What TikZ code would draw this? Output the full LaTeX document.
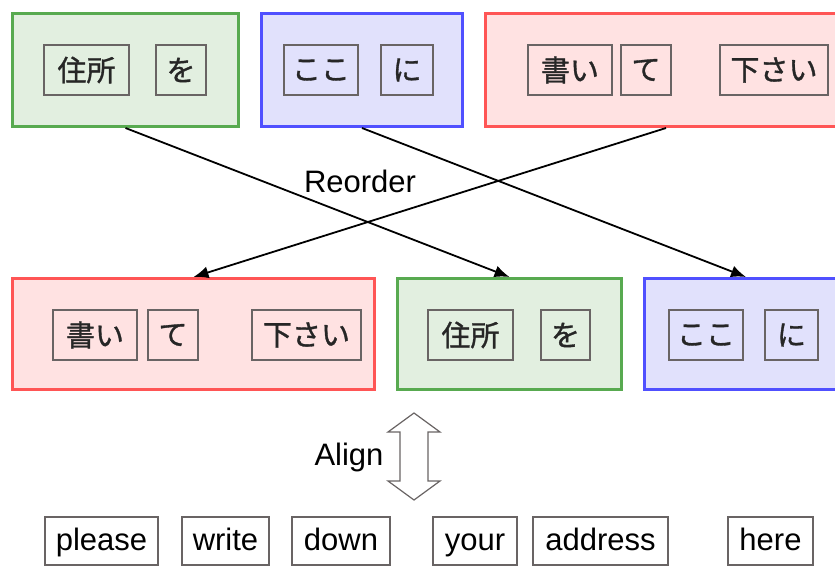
\documentclass[tikz,border=0pt]{standalone}
\usepackage{fontspec}
\setmainfont{Liberation Sans}
\newfontfamily\jp[FakeBold=1.2]{Noto Sans CJK JP}
\usetikzlibrary{arrows.meta,calc}
\definecolor{gline}{RGB}{88,170,80}
\definecolor{gfill}{RGB}{226,239,224}
\definecolor{bline}{RGB}{80,80,255}
\definecolor{bfill}{RGB}{225,225,252}
\definecolor{rline}{RGB}{255,85,85}
\definecolor{rfill}{RGB}{255,226,226}
\definecolor{ibox}{RGB}{105,100,100}
\tikzset{
  outer/.style={draw, line width=3pt, anchor=north west, inner sep=0pt, minimum height=113pt},
  gbox/.style={outer, draw=gline, fill=gfill},
  bbox/.style={outer, draw=bline, fill=bfill},
  rbox/.style={outer, draw=rline, fill=rfill},
  jbox/.style={draw=ibox, line width=1.3pt, minimum height=50pt, inner sep=0pt, text=black!85, font=\jp\fontsize{29}{29}\selectfont},
  wbox/.style={draw=ibox, line width=1.3pt, fill=white, minimum height=48pt, inner sep=0pt, text height=24pt, text depth=5pt, font=\fontsize{31}{31}\selectfont},
  conn/.style={line width=1.8pt, -{Latex[length=15pt,width=12pt]}},
  lbl/.style={font=\fontsize{31}{31}\selectfont, inner sep=0pt}
}
\begin{document}
\begin{tikzpicture}[x=1pt,y=-1pt]
\useasboundingbox (0,0) rectangle (835,565);
\clip (0,0) rectangle (835,565);
% top row
\node[gbox, minimum width=226pt] (g1) at (11,12) {};
\node[bbox, minimum width=201pt] (b1) at (260,12) {};
\node[rbox, minimum width=361pt] (r1) at (484,12) {};
\node[jbox, minimum width=85pt] (g1a) at (86.5,70) {住所};
\node[jbox, minimum width=50pt] (g1b) at (181,70) {を};
\node[jbox, minimum width=74pt] (b1a) at (321,70) {ここ};
\node[jbox, minimum width=52pt] (b1b) at (407,70) {に};
\node[jbox, minimum width=84pt] (r1a) at (570,70) {書い};
\node[jbox, minimum width=50pt] (r1b) at (646,70) {て};
\node[jbox, minimum width=108pt] (r1c) at (774,70) {下さい};
% middle row
\node[rbox, minimum width=362pt, minimum height=111pt] (r2) at (11,277) {};
\node[gbox, minimum width=224pt, minimum height=111pt] (g2) at (396,277) {};
\node[bbox, minimum width=203pt, minimum height=111pt] (b2) at (643,277) {};
\node[jbox, minimum width=84pt] (r2a) at (95,335) {書い};
\node[jbox, minimum width=50pt] (r2b) at (173,335) {て};
\node[jbox, minimum width=109pt] (r2c) at (306.5,335) {下さい};
\node[jbox, minimum width=85pt] (g2a) at (470.5,335) {住所};
\node[jbox, minimum width=49pt] (g2b) at (565.5,335) {を};
\node[jbox, minimum width=74pt] (b2a) at (706,335) {ここ};
\node[jbox, minimum width=53pt] (b2b) at (791.5,335) {に};
% reorder arrows
\draw[conn] (g1.south) -- (g2.north);
\draw[conn] (b1.south) -- (b2.north);
\draw[conn] (r1.south) -- (r2.north);
\node[lbl] (reorder) at (360,181) {Reorder};
% align arrow
\coordinate (al) at (414,457);
\draw[line width=1.2pt, draw=ibox, fill=white, line join=miter]
  ($(al)+(0,-44)$) -- ++(26,19) -- ++(-12,0) -- ++(0,49) -- ++(12,0) -- ++(-26,19)
  -- ++(-26,-19) -- ++(12,0) -- ++(0,-49) -- ++(-12,0) -- cycle;
\node[lbl] (align) at (349,457) {Align};
% english words
\node[wbox, minimum width=113pt] (w1) at (101.5,541) {please};
\node[wbox, minimum width=87pt] (w2) at (225.5,541) {write};
\node[wbox, minimum width=98pt] (w3) at (341,541) {down};
\node[wbox, minimum width=84pt] (w4) at (475,541) {your};
\node[wbox, minimum width=135pt] (w5) at (600.5,541) {address};
\node[wbox, minimum width=85pt] (w6) at (770.5,541) {here};
\end{tikzpicture}
\end{document}
